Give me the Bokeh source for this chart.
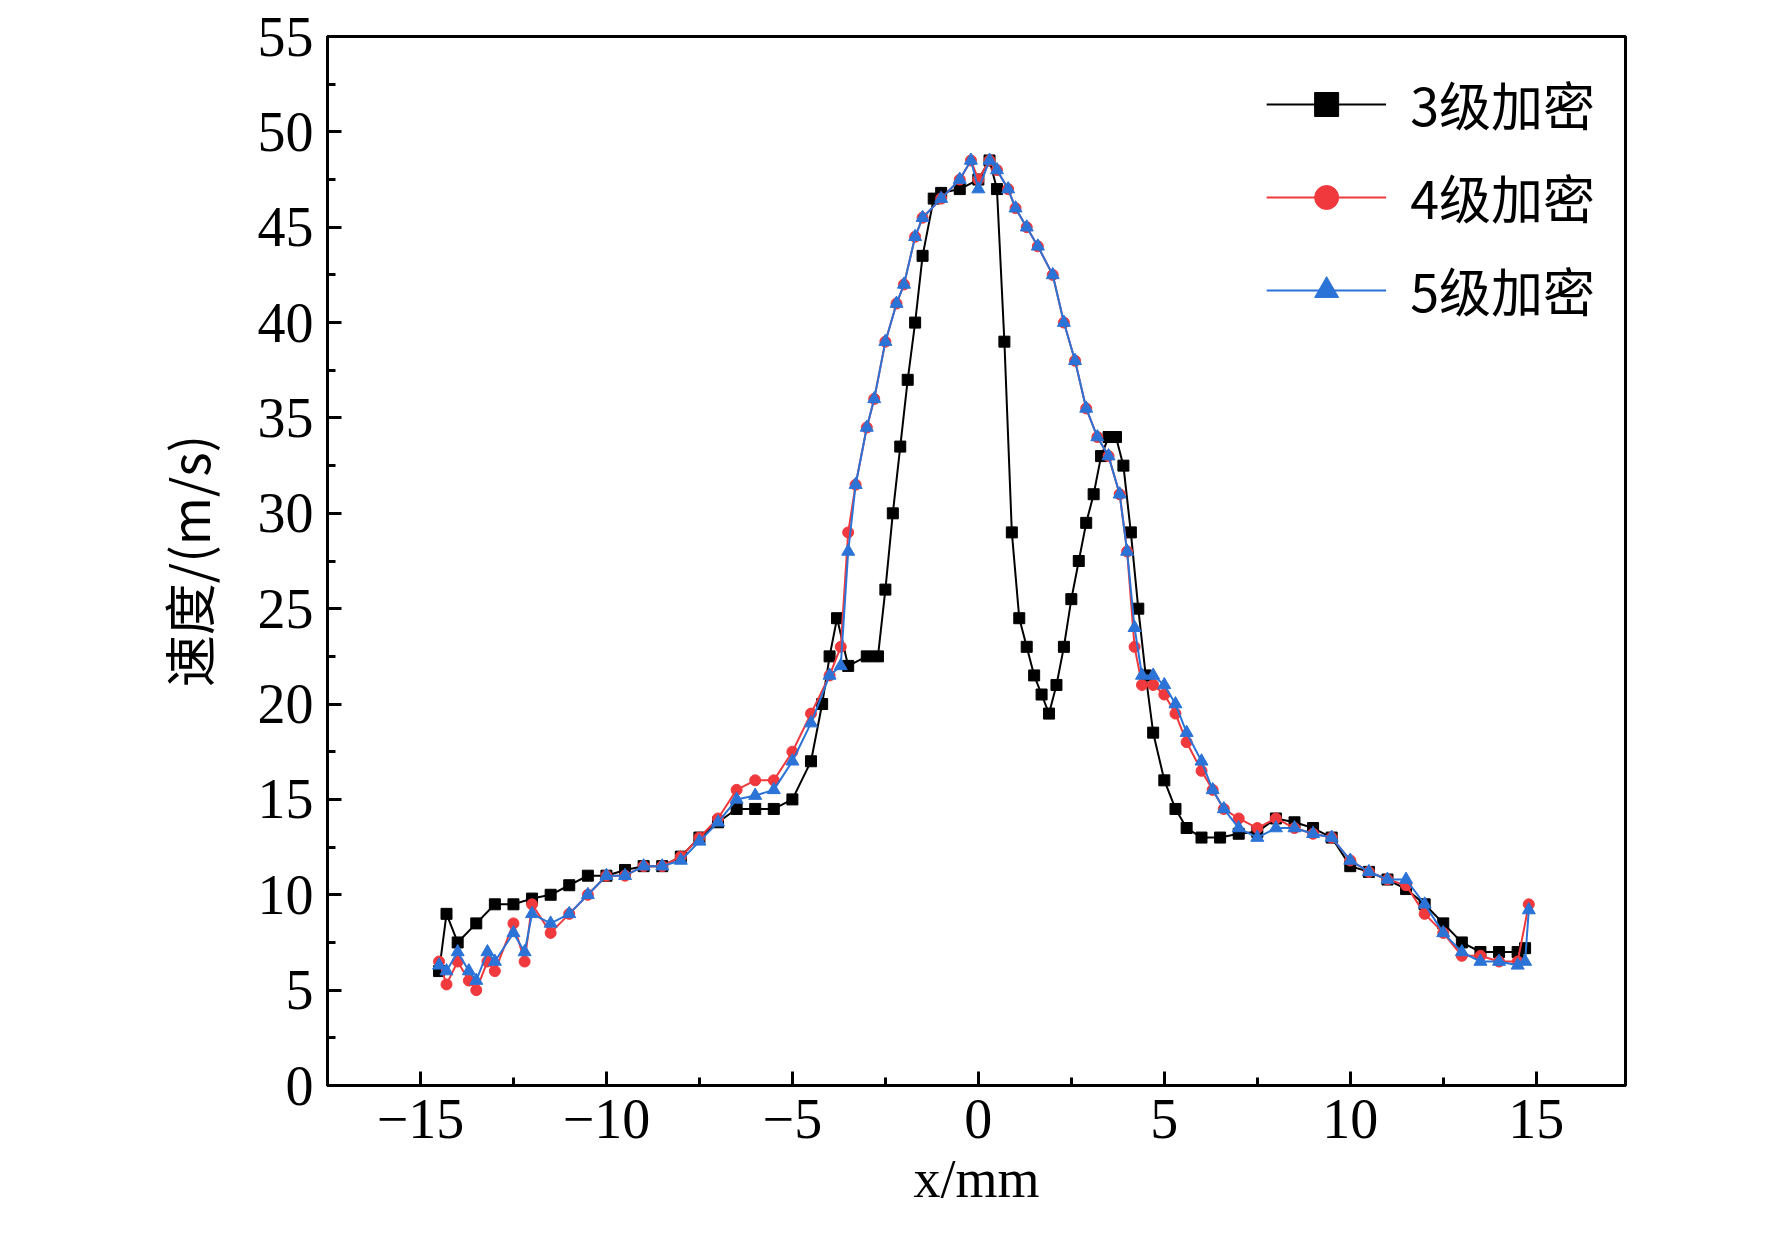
from bokeh.plotting import figure
from bokeh.models import Legend, LegendItem, FixedTicker
from bokeh.embed import file_html
from bokeh.resources import INLINE

x3 = [-14.5,-14.3,-14,-13.5,-13,-12.5,-12,-11.5,-11,-10.5,-10,-9.5,-9,-8.5,-8,-7.5,-7,-6.5,-6,-5.5,-5,-4.5,-4.2,-4,-3.8,-3.5,-3,-2.7,-2.5,-2.3,-2.1,-1.9,-1.7,-1.5,-1.2,-1,-0.5,0,0.3,0.5,0.7,0.9,1.1,1.3,1.5,1.7,1.9,2.1,2.3,2.5,2.7,2.9,3.1,3.3,3.5,3.7,3.9,4.1,4.3,4.5,4.7,5,5.3,5.6,6,6.5,7,7.5,8,8.5,9,9.5,10,10.5,11,11.5,12,12.5,13,13.5,14,14.5,14.7]
y3 = [6,9,7.5,8.5,9.5,9.5,9.8,10,10.5,11,11,11.3,11.5,11.5,12,13,13.8,14.5,14.5,14.5,15,17,20,22.5,24.5,22,22.5,22.5,26,30,33.5,37,40,43.5,46.5,46.8,47,47.5,48.5,47,39,29,24.5,23,21.5,20.5,19.5,21,23,25.5,27.5,29.5,31,33,34,34,32.5,29,25,21.5,18.5,16,14.5,13.5,13,13,13.2,13.3,14,13.8,13.5,13,11.5,11.2,10.8,10.3,9.5,8.5,7.5,7,7,7,7.2]

x4 = [-14.5,-14.3,-14,-13.7,-13.5,-13.2,-13,-12.5,-12.2,-12,-11.5,-11,-10.5,-10,-9.5,-9,-8.5,-8,-7.5,-7,-6.5,-6,-5.5,-5,-4.5,-4,-3.7,-3.5,-3.3,-3,-2.8,-2.5,-2.2,-2,-1.7,-1.5,-1,-0.5,-0.2,0,0.3,0.5,0.8,1,1.3,1.6,2,2.3,2.6,2.9,3.2,3.5,3.8,4,4.2,4.4,4.7,5,5.3,5.6,6,6.3,6.6,7,7.5,8,8.5,9,9.5,10,10.5,11,11.5,12,12.5,13,13.5,14,14.5,14.8]
y4 = [6.5,5.3,6.5,5.5,5,6.5,6,8.5,6.5,9.5,8,9,10,11,11,11.5,11.5,12,13,14,15.5,16,16,17.5,19.5,21.5,23,29,31.5,34.5,36,39,41,42,44.5,45.5,46.5,47.5,48.5,47.5,48.5,48,47,46,45,44,42.5,40,38,35.5,34,33,31,28,23,21,21,20.5,19.5,18,16.5,15.5,14.5,14,13.5,14,13.5,13.2,13,11.8,11.2,10.8,10.5,9,8,6.8,6.8,6.5,6.5,9.5]

x5 = [-14.5,-14.3,-14,-13.7,-13.5,-13.2,-13,-12.5,-12.2,-12,-11.5,-11,-10.5,-10,-9.5,-9,-8.5,-8,-7.5,-7,-6.5,-6,-5.5,-5,-4.5,-4,-3.7,-3.5,-3.3,-3,-2.8,-2.5,-2.2,-2,-1.7,-1.5,-1,-0.5,-0.2,0,0.3,0.5,0.8,1,1.3,1.6,2,2.3,2.6,2.9,3.2,3.5,3.8,4,4.2,4.4,4.7,5,5.3,5.6,6,6.3,6.6,7,7.5,8,8.5,9,9.5,10,10.5,11,11.5,12,12.5,13,13.5,14,14.5,14.7,14.8]
y5 = [6.3,6,7,6,5.5,7,6.5,8,7,9,8.5,9,10,11,11,11.5,11.5,11.8,12.8,13.8,15,15.2,15.5,17,19,21.5,22,28,31.5,34.5,36,39,41,42,44.5,45.5,46.5,47.5,48.5,47,48.5,48,47,46,45,44,42.5,40,38,35.5,34,33,31,28,24,21.5,21.5,21,20,18.5,17,15.5,14.5,13.5,13,13.5,13.5,13.2,13,11.8,11.2,10.8,10.8,9.5,8,7,6.5,6.5,6.3,6.5,9.2]

x_ticks = [-15,-10,-5,0,5,10,15]
y_ticks = [0,5,10,15,20,25,30,35,40,45,50,55]
names = ["3级加密","4级加密","5级加密"]

p = figure(width=1756, height=1238, output_backend="svg", toolbar_location=None,
           x_range=(-17.5,17.4), y_range=(0,55),
           min_border_left=327, min_border_right=131, min_border_top=36, min_border_bottom=153)
p.grid.visible = False
p.outline_line_color = "black"; p.outline_line_width = 3

colors = ["black","#f0393d","#2b73d6"]
l3 = p.line(x3,y3,color=colors[0],line_width=2)
m3 = p.scatter(x3,y3,marker="square",size=11,color=colors[0])
l4 = p.line(x4,y4,color=colors[1],line_width=2)
m4 = p.scatter(x4,y4,marker="circle",size=11,color=colors[1])
l5 = p.line(x5,y5,color=colors[2],line_width=2)
m5 = p.scatter(x5,y5,marker="triangle",size=13,color=colors[2])

leg = Legend(items=[LegendItem(label=names[0],renderers=[l3,m3]),
                    LegendItem(label=names[1],renderers=[l4,m4]),
                    LegendItem(label=names[2],renderers=[l5,m5])],
             location="top_right", border_line_color=None, background_fill_alpha=0,
             label_text_font="Noto Sans CJK SC", label_text_font_size="52px",
             label_text_color="black",
             glyph_width=120, glyph_height=60, spacing=18, label_standoff=24,
             margin=30, padding=20)
p.add_layout(leg)

for ax in (p.xaxis, p.yaxis):
    ax.axis_line_width = 3
    ax.major_tick_line_width = 3; ax.minor_tick_line_width = 3
    ax.major_tick_in = 14; ax.major_tick_out = 0
    ax.minor_tick_in = 8; ax.minor_tick_out = 0
    ax.major_label_text_font = "Liberation Serif"
    ax.major_label_text_font_size = "56px"
    ax.major_label_text_color = "black"
    ax.major_label_standoff = 14
p.xaxis.ticker = FixedTicker(ticks=x_ticks, minor_ticks=[-12.5,-7.5,-2.5,2.5,7.5,12.5])
p.yaxis.ticker = FixedTicker(ticks=y_ticks, minor_ticks=[2.5+5*i for i in range(11)])
p.xaxis.major_label_overrides = {t: ("\u2212"+str(-t) if t<0 else str(t)) for t in x_ticks}

p.xaxis.axis_label = "x/mm"
p.xaxis.axis_label_text_font = "Liberation Serif"
p.xaxis.axis_label_text_font_size = "54px"
p.xaxis.axis_label_text_font_style = "normal"
p.xaxis.axis_label_text_color = "black"
p.xaxis.axis_label_standoff = 8

p.yaxis.axis_label = "速度/(m/s)"
p.yaxis.axis_label_text_font = "Noto Sans CJK SC"
p.yaxis.axis_label_text_font_size = "52px"
p.yaxis.axis_label_text_font_style = "normal"
p.yaxis.axis_label_text_color = "black"
p.yaxis.axis_label_standoff = 30

open("out.html","w").write(file_html(p, INLINE))
